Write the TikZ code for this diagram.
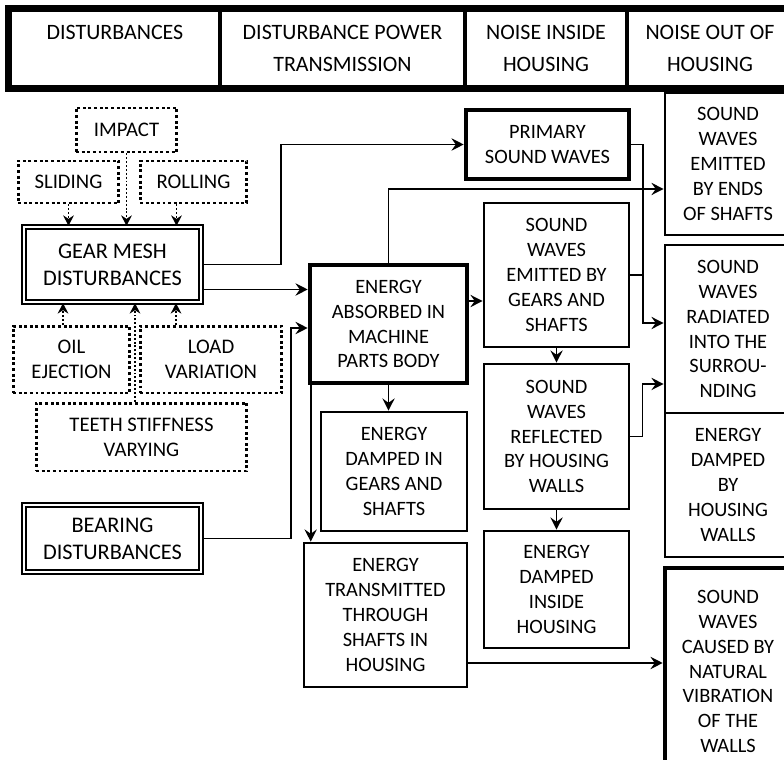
\documentclass[tikz,border=0pt]{standalone}
\usepackage{fontspec}
\setmainfont{Carlito}
\usetikzlibrary{arrows.meta}

\begin{document}
\begin{tikzpicture}[x=0.02cm, y=-0.02cm,
  every node/.style={align=center, inner sep=0pt, font=\fontsize{11.6}{14.2}\selectfont},
  plainbox/.style={draw, line width=1.5pt},
  heavybox/.style={draw, line width=2.6pt},
  twinbox/.style={draw, line width=1.2pt, double=white, double distance=1.1pt, font=\fontsize{12.7}{15.5}\selectfont},
  dotbox/.style={draw, line width=1.7pt, dash pattern=on 1.7pt off 1.5pt, font=\fontsize{11.8}{14.4}\selectfont},
  headcell/.style={draw, line width=2pt, minimum height=1.54cm, font=\fontsize{12.5}{18}\selectfont},
  arr/.style={line width=0.9pt, -{Stealth[length=7pt,width=7pt,inset=2.5pt]}},
  dotarr/.style={line width=1.1pt, dash pattern=on 1.1pt off 1.1pt, -{Stealth[length=6pt,width=6pt,inset=2pt]}}
]
\useasboundingbox (0,0) rectangle (784,760);
\clip (0,0) rectangle (784,760);

\node[headcell, minimum width=4.2cm] (hdist) at (115,48.5) {DISTURBANCES\\\mbox{}};
\node[headcell, minimum width=4.9cm] (hpower) at (342.5,48.5) {DISTURBANCE POWER\\TRANSMISSION};
\node[headcell, minimum width=3.24cm] (hinside) at (546,48.5) {NOISE INSIDE\\HOUSING};
\node[headcell, minimum width=3.3cm] (hout) at (710,48.5) {NOISE OUT OF\\HOUSING};
\draw[line width=3.5pt] (hdist.north west) rectangle (hout.south east);

\node[dotbox, minimum width=2.02cm, minimum height=0.88cm] (impact) at (126.5,130) {IMPACT};
\node[dotbox, minimum width=2.02cm, minimum height=0.84cm] (sliding) at (68.5,182) {SLIDING};
\node[dotbox, minimum width=2.14cm, minimum height=0.84cm] (rolling) at (193.5,182) {ROLLING};
\node[twinbox, minimum width=3.54cm, minimum height=1.5cm] (gearmesh) at (112.5,264.5) {GEAR MESH\\DISTURBANCES};
\node[dotbox, minimum width=2.34cm, minimum height=1.34cm] (oil) at (71.5,359.5) {OIL\\EJECTION};
\node[dotbox, minimum width=2.84cm, minimum height=1.34cm] (load) at (211,359.5) {LOAD\\VARIATION};
\node[dotbox, minimum width=4.22cm, minimum height=1.36cm] (teeth) at (141.5,437) {TEETH STIFFNESS\\VARYING};
\node[twinbox, minimum width=3.54cm, minimum height=1.34cm] (bearing) at (112.5,538.5) {BEARING\\DISTURBANCES};

\node[heavybox, minimum width=3.14cm, minimum height=2.36cm] (absorbed) at (388.5,324) {ENERGY\\ABSORBED IN\\MACHINE\\PARTS BODY};
\node[plainbox, minimum width=2.92cm, minimum height=2.38cm] (dampgear) at (394,471.5) {ENERGY\\DAMPED IN\\GEARS AND\\SHAFTS};
\node[plainbox, minimum width=3.26cm, minimum height=2.88cm] (transmit) at (385.5,615) {ENERGY\\TRANSMITTED\\THROUGH\\SHAFTS IN\\HOUSING};

\node[heavybox, minimum width=3.26cm, minimum height=1.38cm] (primary) at (547.5,144.5) {PRIMARY\\SOUND WAVES};
\node[plainbox, minimum width=2.9cm, minimum height=2.88cm] (emitgear) at (556.5,275) {SOUND\\WAVES\\EMITTED BY\\GEARS AND\\SHAFTS};
\node[plainbox, minimum width=2.9cm, minimum height=2.9cm] (reflect) at (556.5,436.5) {SOUND\\WAVES\\REFLECTED\\BY HOUSING\\WALLS};
\node[plainbox, minimum width=2.9cm, minimum height=2.34cm] (dampin) at (556.5,589.5) {ENERGY\\DAMPED\\INSIDE\\HOUSING};

\node[plainbox, minimum width=2.52cm, minimum height=2.84cm] (ends) at (728,164) {SOUND\\WAVES\\EMITTED\\BY ENDS\\OF SHAFTS};
\node[plainbox, minimum width=2.52cm, minimum height=3.36cm] (radiate) at (728,329) {SOUND\\WAVES\\RADIATED\\INTO THE\\SURROU-\\NDING};
\node[plainbox, minimum width=2.52cm, minimum height=2.88cm] (damphouse) at (728,485) {ENERGY\\DAMPED\\BY\\HOUSING\\WALLS};
\node[heavybox, minimum width=2.52cm, minimum height=4.14cm] (caused) at (728,671.5) {SOUND\\WAVES\\CAUSED BY\\NATURAL\\VIBRATION\\OF THE\\WALLS};

\draw[dotarr] (sliding.south) -- (sliding.south |- gearmesh.north);
\draw[dotarr] (impact.south) -- (impact.south |- gearmesh.north);
\draw[dotarr] ([xshift=-0.34cm]rolling.south) -- ([xshift=-0.34cm]rolling.south |- gearmesh.north);
\draw[dotarr] ([xshift=-0.17cm]oil.north) -- ([xshift=-0.17cm]oil.north |- gearmesh.south);
\draw[dotarr] ([xshift=-0.7cm]load.north) -- ([xshift=-0.7cm]load.north |- gearmesh.south);
\draw[dotarr] ([xshift=-0.13cm]teeth.north) -- ([xshift=-0.13cm]teeth.north |- gearmesh.south);

\draw[arr] (gearmesh.east) -- ++(79,0) |- (primary.west);
\draw[arr] ([yshift=-0.5cm]gearmesh.east) -- ([yshift=-0.5cm]gearmesh.east -| absorbed.west);
\draw[arr] (bearing.east) -- ++(89,0) |- ([yshift=-0.08cm]absorbed.west);
\draw[arr] ([yshift=0.46cm]absorbed.east) -- ([yshift=0.46cm]absorbed.east -| emitgear.west);
\draw[arr] (absorbed.north) |- ([yshift=-0.5cm]ends.west);
\draw[arr] (absorbed.south) -- (absorbed.south |- dampgear.north);
\draw[arr] ([xshift=0.06cm]absorbed.south west) -- ([xshift=0.06cm]absorbed.south west |- transmit.north);
\draw[arr] ([yshift=-0.96cm]transmit.east) -- ([yshift=-0.96cm]transmit.east -| caused.west);
\draw[arr] (primary.east) -- ++(12,0) |- ([yshift=0.12cm]radiate.west);
\draw[line width=0.9pt] (emitgear.east) -- ++(12,0);
\draw[arr] (reflect.east) -- ++(12,0) |- ([yshift=-1.1cm]radiate.west);
\draw[arr] (emitgear.south) -- (reflect.north);
\draw[arr] (reflect.south) -- (dampin.north);
\end{tikzpicture}
\end{document}
